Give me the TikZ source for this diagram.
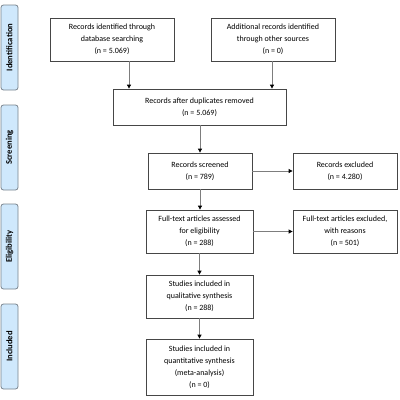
\documentclass[tikz,border=0pt]{standalone}
\usepackage{fontspec}
\setmainfont{Carlito}
\usetikzlibrary{arrows.meta}

\definecolor{bandblue}{RGB}{207,232,252}
\definecolor{bandedge}{RGB}{120,130,140}
\definecolor{boxedge}{RGB}{70,70,70}
\definecolor{arrgray}{RGB}{125,125,125}

\tikzset{
  box/.style={draw=boxedge, line width=0.8pt, align=center, inner sep=1pt,
    font=\fontsize{8}{12}\selectfont, minimum width=104, minimum height=36},
  band/.style={draw=bandedge, fill=bandblue, rounded corners=2.5pt, line width=0.8pt,
    rotate=90, minimum width=85, minimum height=17, inner sep=0pt,
    font=\fontsize{8.6}{9}\selectfont\bfseries},
  arr/.style={draw=arrgray, line width=0.8pt, -{Triangle[length=4pt,width=4pt,color=black]}}
}

\begin{document}
\begin{tikzpicture}[x=1pt,y=-1pt]
\useasboundingbox (0,0) rectangle (400,400);

\node[band] (ident) at (9.5,47.5) {Identification};
\node[band] (screen) at (9.5,147.5) {Screening};
\node[band] (elig) at (9.5,246.5) {Eligibility};
\node[band] (incl) at (9.5,346.5) {Included};

\node[box, minimum width=124, minimum height=43] (dbsearch) at (112,39.5) {Records identified through\\database searching\\(n = 5.069)};
\node[box, minimum width=124, minimum height=43] (othersrc) at (273,39.5) {Additional records identified\\through other sources\\(n = 0)};

\node[box, minimum width=173] (nodup) at (199.5,107) {Records after duplicates removed\\(n = 5.069)};

\node[box] (screened) at (200,171) {Records screened\\(n = 789)};
\node[box] (excluded) at (345,171) {Records excluded\\(n = 4.280)};

\node[box, minimum width=107, minimum height=43] (fulltext) at (199.5,231.5) {Full-text articles assessed\\for eligibility\\(n = 288)};
\node[box, minimum height=43] (ftexcl) at (345,231.5) {Full-text articles excluded,\\with reasons\\(n = 501)};

\node[box, minimum width=107, minimum height=43] (qual) at (199.5,296.5) {Studies included in\\qualitative synthesis\\(n = 288)};
\node[box, minimum width=107, minimum height=56] (quant) at (199.5,367) {Studies included in\\quantitative synthesis\\(meta-analysis)\\(n = 0)};

\draw[arr] (dbsearch.south -| 129,0) -- (nodup.north -| 129,0);
\draw[arr] (othersrc.south -| 272,0) -- (nodup.north -| 272,0);
\draw[arr] (nodup.south -| screened.north) -- (screened.north);
\draw[arr] (screened.east) -- (excluded.west);
\draw[arr] (screened.south) -- (fulltext.north -| screened.south);
\draw[arr] (fulltext.east) -- (ftexcl.west);
\draw[arr] (fulltext.south) -- (qual.north);
\draw[arr] (qual.south) -- (quant.north);

\end{tikzpicture}
\end{document}
